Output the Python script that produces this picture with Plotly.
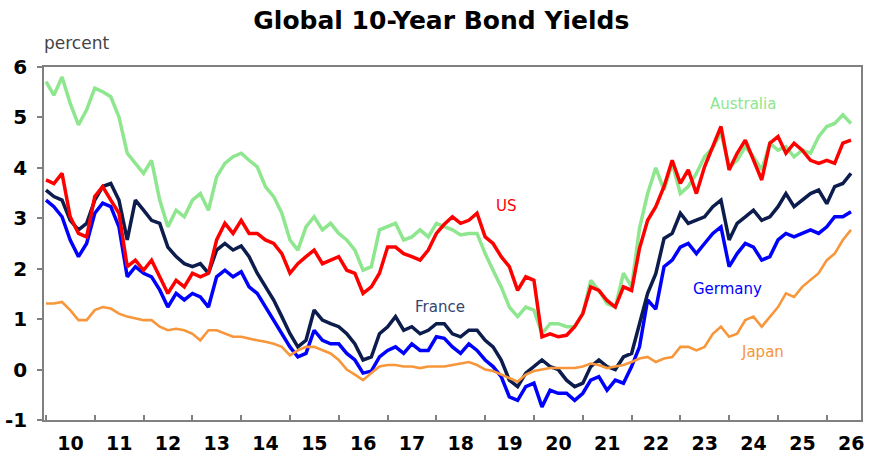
import pandas as pd
import plotly.graph_objects as go

# bi-monthly observations, Jan 2010 .. Jul 2026
dates = pd.date_range("2010-01-01", periods=100, freq="2MS")

australia = [
    5.71, 5.44, 5.80, 5.28, 4.85, 5.15,
    5.58, 5.51, 5.41, 5.01, 4.29, 4.09,
    3.89, 4.15, 3.36, 2.83, 3.16, 3.03,
    3.36, 3.49, 3.16, 3.82, 4.09, 4.22,
    4.29, 4.15, 4.02, 3.63, 3.43, 3.10,
    2.57, 2.37, 2.83, 3.03, 2.77, 2.90,
    2.70, 2.57, 2.37, 1.97, 2.04, 2.77,
    2.83, 2.90, 2.57, 2.63, 2.77, 2.63,
    2.90, 2.83, 2.77, 2.67, 2.70, 2.70,
    2.30, 1.97, 1.64, 1.24, 1.05, 1.24,
    1.18, 0.71, 0.91, 0.91, 0.85, 0.85,
    1.11, 1.77, 1.57, 1.31, 1.24, 1.91,
    1.64, 2.80, 3.49, 4.00, 3.56, 4.09,
    3.49, 3.63, 3.89, 4.22, 4.40, 4.70,
    4.02, 4.15, 4.42, 4.22, 3.96, 4.49,
    4.35, 4.42, 4.22, 4.35, 4.29, 4.62,
    4.82, 4.88, 5.05, 4.88,
]

us = [
    3.76, 3.69, 3.89, 3.03, 2.70, 2.63,
    3.43, 3.63, 3.36, 3.10, 2.04, 2.17,
    1.97, 2.17, 1.84, 1.51, 1.77, 1.64,
    1.91, 1.84, 1.91, 2.57, 2.90, 2.70,
    2.96, 2.70, 2.70, 2.57, 2.50, 2.30,
    1.91, 2.10, 2.24, 2.37, 2.10, 2.17,
    2.24, 1.97, 1.91, 1.51, 1.64, 1.91,
    2.43, 2.43, 2.30, 2.24, 2.17, 2.37,
    2.70, 2.88, 3.03, 2.90, 2.96, 3.10,
    2.63, 2.50, 2.24, 2.04, 1.57, 1.84,
    1.77, 0.65, 0.71, 0.65, 0.68, 0.85,
    1.11, 1.64, 1.57, 1.37, 1.24, 1.64,
    1.57, 2.40, 2.96, 3.23, 3.63, 4.15,
    3.69, 3.96, 3.49, 4.02, 4.42, 4.82,
    3.96, 4.29, 4.55, 4.15, 3.76, 4.49,
    4.62, 4.29, 4.49, 4.35, 4.15, 4.09,
    4.15, 4.09, 4.49, 4.55,
]

france = [
    3.56, 3.43, 3.36, 2.96, 2.77, 2.90,
    3.36, 3.63, 3.69, 3.36, 2.57, 3.36,
    3.16, 2.96, 2.90, 2.43, 2.24, 2.10,
    2.04, 2.10, 1.91, 2.37, 2.50, 2.37,
    2.45, 2.24, 1.91, 1.64, 1.38, 1.05,
    0.71, 0.45, 0.58, 1.18, 0.98, 0.91,
    0.85, 0.71, 0.51, 0.19, 0.25, 0.71,
    0.85, 1.05, 0.78, 0.85, 0.71, 0.78,
    0.91, 0.91, 0.71, 0.65, 0.78, 0.78,
    0.58, 0.45, 0.19, -0.21, -0.34, -0.07,
    0.06, 0.19, 0.06, 0.00, -0.21, -0.34,
    -0.27, 0.06, 0.19, 0.06, 0.00, 0.25,
    0.32, 0.90, 1.51, 1.90, 2.60, 2.70,
    3.10, 2.90, 2.96, 3.03, 3.23, 3.36,
    2.57, 2.90, 3.03, 3.16, 2.96, 3.03,
    3.23, 3.49, 3.23, 3.36, 3.49, 3.56,
    3.29, 3.63, 3.69, 3.89,
]

germany = [
    3.36, 3.23, 3.03, 2.57, 2.24, 2.50,
    3.10, 3.30, 3.23, 2.83, 1.84, 2.04,
    1.91, 1.84, 1.58, 1.24, 1.51, 1.38,
    1.51, 1.44, 1.24, 1.84, 1.97, 1.84,
    1.94, 1.64, 1.51, 1.24, 0.98, 0.71,
    0.45, 0.25, 0.32, 0.78, 0.58, 0.51,
    0.51, 0.32, 0.19, -0.07, -0.03, 0.25,
    0.38, 0.45, 0.32, 0.51, 0.38, 0.38,
    0.65, 0.62, 0.45, 0.32, 0.51, 0.38,
    0.19, 0.06, -0.14, -0.54, -0.61, -0.34,
    -0.27, -0.74, -0.41, -0.47, -0.47, -0.61,
    -0.47, -0.21, -0.14, -0.41, -0.21, -0.27,
    0.06, 0.45, 1.38, 1.20, 2.04, 2.17,
    2.43, 2.50, 2.30, 2.50, 2.70, 2.83,
    2.04, 2.30, 2.50, 2.43, 2.17, 2.24,
    2.57, 2.70, 2.63, 2.70, 2.77, 2.70,
    2.83, 3.03, 3.03, 3.13,
]

japan = [
    1.31, 1.31, 1.34, 1.18, 0.98, 0.98,
    1.18, 1.24, 1.21, 1.11, 1.05, 1.02,
    0.98, 0.98, 0.85, 0.78, 0.81, 0.78,
    0.71, 0.58, 0.78, 0.78, 0.71, 0.65,
    0.65, 0.61, 0.58, 0.55, 0.51, 0.45,
    0.28, 0.38, 0.45, 0.45, 0.38, 0.32,
    0.19, 0.00, -0.10, -0.21, -0.07, 0.06,
    0.09, 0.09, 0.06, 0.06, 0.03, 0.06,
    0.06, 0.06, 0.09, 0.12, 0.15, 0.09,
    0.00, -0.03, -0.10, -0.17, -0.24, -0.10,
    -0.03, 0.00, 0.03, 0.03, 0.03, 0.03,
    0.06, 0.12, 0.09, 0.03, 0.06, 0.09,
    0.15, 0.22, 0.25, 0.15, 0.22, 0.25,
    0.45, 0.45, 0.38, 0.45, 0.71, 0.85,
    0.65, 0.71, 0.98, 1.05, 0.85, 1.05,
    1.24, 1.51, 1.44, 1.64, 1.77, 1.91,
    2.17, 2.30, 2.57, 2.77,
]

y_ticks = [-1, 0, 1, 2, 3, 4, 5, 6]
y_tick_text = ["-1", "0", "1", "2", "3", "4", "5", "6"]

FONT = "DejaVu Sans, Arial, sans-serif"
C_AUS = "#8EE68E"
C_US = "#FF0000"
C_FR = "#0C1C4C"
C_DE = "#0000FF"
C_JP = "#F7963A"

fig = go.Figure()
series = [
    ("Germany", germany, C_DE, 3.5),
    ("France", france, C_FR, 3.5),
    ("Japan", japan, C_JP, 2.6),
    ("Australia", australia, C_AUS, 3.5),
    ("US", us, C_US, 3.5),
]
for name, vals, col, w in series:
    fig.add_trace(go.Scatter(x=dates, y=vals, mode="lines", name=name,
                             line=dict(color=col, width=w), showlegend=False))

labels = [
    ("Australia", C_AUS, 0.8556, 0.895),
    ("US", C_US, 0.5667, 0.606),
    ("France", "#36456F", 0.4847, 0.320),
    ("Germany", C_DE, 0.8372, 0.371),
    ("Japan", C_JP, 0.880, 0.193),
]
for txt, col, px, py in labels:
    fig.add_annotation(text=txt, xref="paper", yref="paper", x=px, y=py,
                       xanchor="center", yanchor="middle", showarrow=False,
                       font=dict(family=FONT, size=15, color=col))

fig.add_annotation(text="percent", xref="paper", yref="paper", x=-0.002, y=1.068,
                   xanchor="left", yanchor="middle", showarrow=False,
                   font=dict(family=FONT, size=17, color="#444444"))

fig.update_layout(
    width=888, height=470,
    margin=dict(l=44, r=27, t=67, b=50),
    paper_bgcolor="white", plot_bgcolor="white",
    title=dict(text="<b>Global 10-Year Bond Yields</b>", x=0.497, xref="container",
               y=1 - 20 / 470, yref="container", xanchor="center", yanchor="middle",
               font=dict(family=FONT, size=25, color="#000000")),
    xaxis=dict(type="date", range=["2009-12-17", "2026-09-14"],
               tick0="2010-01-01", dtick="M12", tickformat="%y",
               ticklabelmode="period", ticks="inside", ticklen=5, tickwidth=1.5,
               tickcolor="#808080", showline=True, linecolor="#808080", linewidth=1.5,
               mirror=True, showgrid=False, zeroline=False, automargin=False,
               ticklabelstandoff=5,
               tickfont=dict(family=FONT, size=19, color="#000000", weight="bold")),
    yaxis=dict(range=[-1, 6], tickvals=y_ticks, ticktext=y_tick_text,
               ticks="outside", ticklen=5,
               tickwidth=1.5, tickcolor="#808080", showline=True, linecolor="#808080",
               linewidth=1.5, mirror=True, showgrid=False, zeroline=False,
               ticklabelstandoff=6, automargin=False,
               tickfont=dict(family=FONT, size=20, color="#000000", weight="bold")),
)

fig.write_html("out.html")
